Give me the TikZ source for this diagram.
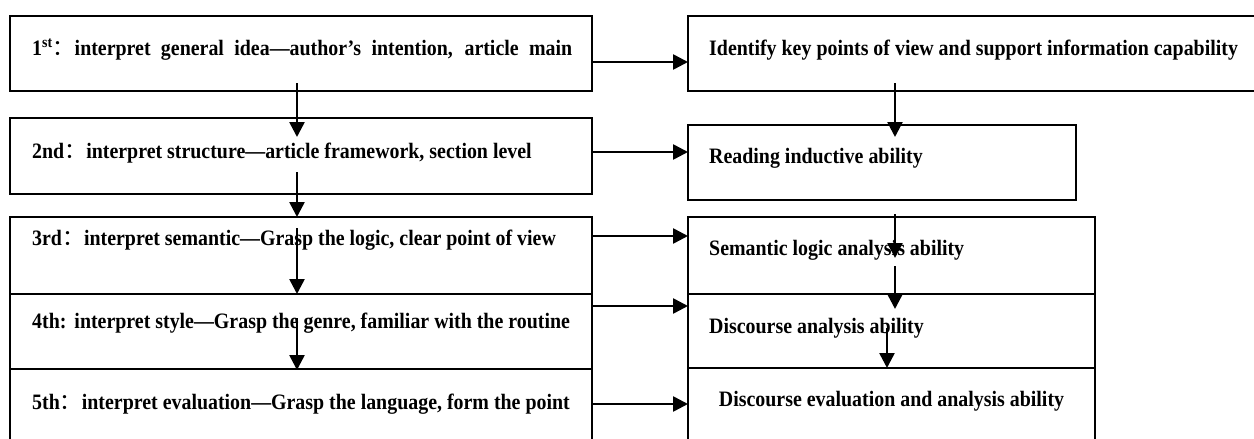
\documentclass[tikz,border=0pt]{standalone}
\usepackage{fontspec}
\setmainfont{Liberation Serif}[FakeStretch=0.905]
\newfontfamily\cjk{Noto Sans CJK SC}
\usetikzlibrary{arrows.meta,calc}
\begin{document}
\begin{tikzpicture}[x=1pt,y=-1pt,
  box/.style={draw, line width=1.5pt, rectangle, inner sep=0pt, outer sep=0pt, anchor=north west},
  txt/.style={anchor=base west, inner sep=0pt, font=\bfseries\fontsize{22}{26}\selectfont},
  arr/.style={line width=2.6pt, -{Triangle[length=15pt,width=15pt]}}]
\fill[white] (0,0) rectangle (1254,439);
\useasboundingbox (0,0) rectangle (1254,439);
% left column
\node[box, minimum width=582pt, minimum height=75pt] (L1) at (10,16) {};
\node[box, minimum width=582pt, minimum height=76pt] (L2) at (10,118) {};
\node[box, minimum width=582pt, minimum height=77pt] (L3) at (10,217) {};
\node[box, minimum width=582pt, minimum height=75pt] (L4) at (10,294) {};
\node[box, minimum width=582pt, minimum height=95pt] (L5) at (10,369) {};
% right column
\node[box, minimum width=570pt, minimum height=75pt] (R1) at (688,16) {};
\node[box, minimum width=388pt, minimum height=75pt] (R2) at (688,125) {};
\node[box, minimum width=407pt, minimum height=77pt] (R3) at (688,217) {};
\node[box, minimum width=407pt, minimum height=74pt] (R4) at (688,294) {};
\node[box, minimum width=407pt, minimum height=95pt] (R5) at (688,368) {};
% texts
\node[txt] (t1) at (32,55) {\makebox[540pt][s]{1\textsuperscript{st}{\cjk\mdseries：}interpret general idea—author’s intention, article main}};
\node[txt] (t2) at (32,158) {2nd{\cjk\mdseries：}interpret structure—article framework, section level};
\node[txt] (t3) at (32,245) {3rd{\cjk\mdseries：}interpret semantic—Grasp the logic, clear point of view};
\node[txt] (t4) at (32,328) {4th:\hspace{8pt}interpret style—Grasp the genre, familiar with the routine};
\node[txt] (t5) at (32,409) {5th{\cjk\mdseries：}interpret evaluation—Grasp the language, form the point};
\node[txt] (s1) at (709,55) {Identify key points of view and support information capability};
\node[txt] (s2) at (709,163) {Reading inductive ability};
\node[txt] (s3) at (709,255) {Semantic logic analysis ability};
\node[txt] (s4) at (709,333) {Discourse analysis ability};
\node[txt, anchor=base] (s5) at (891.5,406) {Discourse evaluation and analysis ability};
% horizontal arrows
\draw[arr] ($(L1.north east)+(0,46)$) -- ($(R1.north west)+(0,46)$);
\draw[arr] ($(L2.north east)+(0,34)$) -- ($(R2.north west)+(0,27)$);
\draw[arr] ($(L3.north east)+(0,19)$) -- ($(R3.north west)+(0,19)$);
\draw[arr] ($(L4.north east)+(0,12)$) -- ($(R4.north west)+(0,12)$);
\draw[arr] ($(L5.north east)+(0,35)$) -- ($(R5.north west)+(0,36)$);
% left vertical arrows
\draw[arr] ($(L1.south west)+(287,-8)$) -- ($(L2.north west)+(287,19)$);
\draw[arr] ($(L2.south west)+(287,-22)$) -- ($(L3.north west)+(287,0)$);
\draw[arr] ($(L3.north west)+(287,11)$) -- ($(L4.north west)+(287,0)$);
\draw[arr] ($(L4.north west)+(287,24)$) -- ($(L5.north west)+(287,1)$);
% right vertical arrows
\draw[arr] ($(R1.south west)+(207,-8)$) -- ($(R2.north west)+(207,12)$);
\draw[arr] ($(R2.south west)+(207,14)$) -- ($(R3.north west)+(207,41)$);
\draw[arr] ($(R3.north west)+(207,49)$) -- ($(R4.north west)+(207,15)$);
\draw[arr] ($(R4.north west)+(199,34)$) -- ($(R5.north west)+(199,0)$);
\end{tikzpicture}
\end{document}
